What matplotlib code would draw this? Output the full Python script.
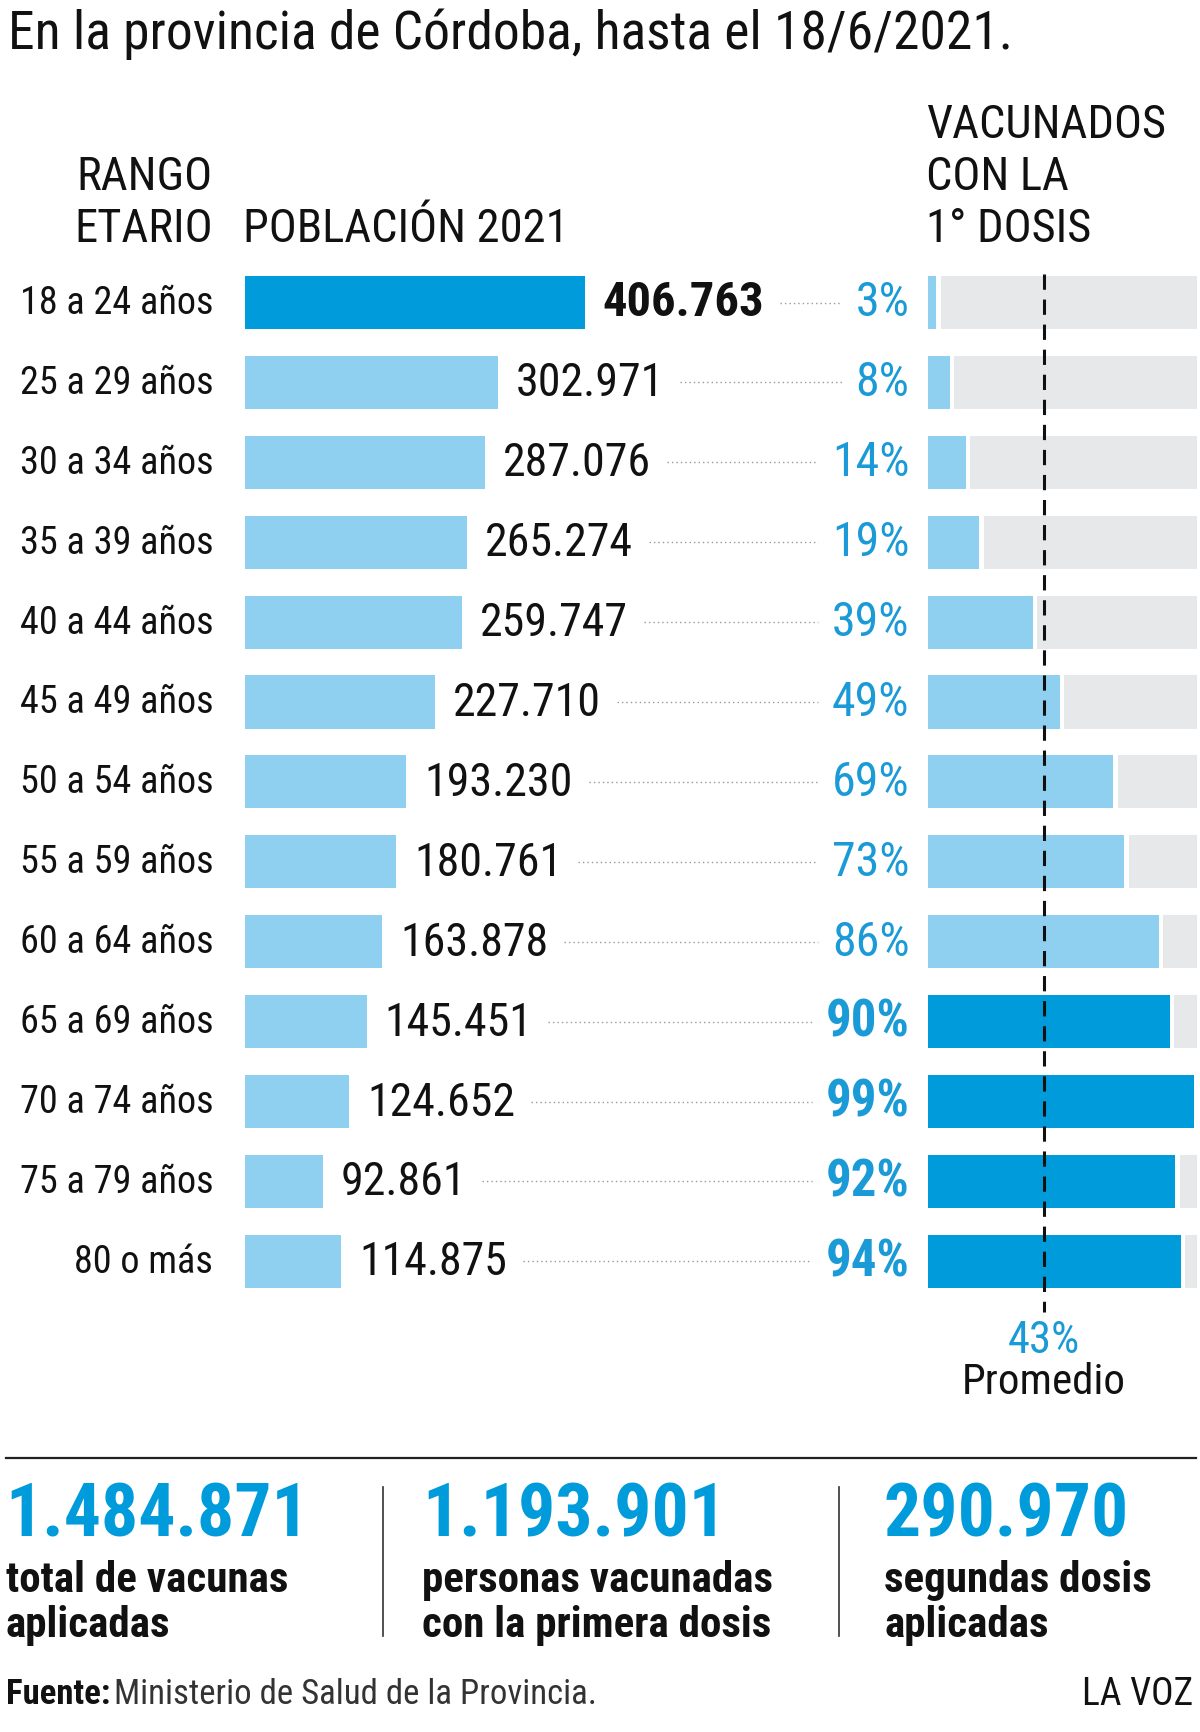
import matplotlib
matplotlib.use("Agg")
import matplotlib.pyplot as plt
from matplotlib import font_manager as fm
from matplotlib.transforms import offset_copy

# ---------------- data ----------------
age_groups = ["18 a 24 años", "25 a 29 años", "30 a 34 años", "35 a 39 años",
              "40 a 44 años", "45 a 49 años", "50 a 54 años", "55 a 59 años",
              "60 a 64 años", "65 a 69 años", "70 a 74 años", "75 a 79 años",
              "80 o más"]
population = [406763, 302971, 287076, 265274, 259747, 227710, 193230,
              180761, 163878, 145451, 124652, 92861, 114875]
pop_labels = ["406.763", "302.971", "287.076", "265.274", "259.747", "227.710",
              "193.230", "180.761", "163.878", "145.451", "124.652", "92.861",
              "114.875"]
vaccinated_pct = [3, 8, 14, 19, 39, 49, 69, 73, 86, 90, 99, 92, 94]
average_pct = 43
totals = ["1.484.871", "1.193.901", "290.970"]
totals_desc = ["total de vacunas\naplicadas",
               "personas vacunadas\ncon la primera dosis",
               "segundas dosis\naplicadas"]

# ---------------- style ----------------
names = {f.name for f in fm.fontManager.ttflist}
def pick(cands):
    for c in cands:
        if c in names:
            return c
    return "DejaVu Sans"
FONT = pick(["Roboto Condensed", "Liberation Sans Narrow", "Open Sans Condensed",
             "DejaVu Sans Condensed", "Roboto", "Liberation Sans"])
plt.rcParams["font.family"] = [FONT, "DejaVu Sans"]

DARK = "#009bdb"
LIGHT = "#8fd0f0"
GRAY = "#e7e8ea"
PCT = "#1a9ad6"
INK = "#111111"
W, H = 1200, 1733

fig = plt.figure(figsize=(W / 100, H / 100), dpi=100)
fig.patch.set_facecolor("white")

def fx(x):
    return x / W
def fy(y):
    return 1 - y / H

# row geometry (pixels)
row0, step = 303.5, 79.9
n = len(age_groups)
top = row0 - step / 2
bottom = row0 + (n - 1) * step + step / 2

# population axes: from bar origin to right edge of percent labels
p_left, p_right = 245.3, 909.4
bar_px = 339.2  # width of largest bar
xmax = population[0] * (p_right - p_left) / bar_px
ax1 = fig.add_axes([fx(p_left), fy(bottom), (p_right - p_left) / W, (bottom - top) / H])
ax1.set_xlim(0, xmax)
ax1.set_ylim(n - 0.5, -0.5)
ax1.axis("off")

# vaccination axes
v_left, v_w = 928.2, 268.5
ax2 = fig.add_axes([fx(v_left), fy(bottom), v_w / W, (bottom - top) / H])
ax2.set_xlim(0, 100)
ax2.set_ylim(n - 0.5, -0.5)
ax2.axis("off")

bh = 0.664
ypos = list(range(n))
pop_colors = [DARK if i == 0 else LIGHT for i in ypos]
ax1.barh(ypos, population, height=bh, color=pop_colors, linewidth=0)

vac_colors = [DARK if v >= 90 else LIGHT for v in vaccinated_pct]
gap = 1.6
gray_left = [v + gap for v in vaccinated_pct]
gray_w = [max(0, 100 - v - gap) for v in vaccinated_pct]
ax2.barh(ypos, gray_w, left=gray_left, height=bh, color=GRAY, linewidth=0)
ax2.barh(ypos, vaccinated_pct, height=bh, color=vac_colors, linewidth=0)

# average dashed line
ax2.plot([average_pct, average_pct], [-0.36, n - 1 + 0.64], color=INK,
         lw=2.2, dashes=(5, 3.2), clip_on=False, zorder=5)
ax2.text(average_pct, 12.98, f"{average_pct}%", color=PCT, fontsize=32,
         ha="center", va="center")
ax2.text(average_pct, 13.5, "Promedio", color=INK, fontsize=31,
         ha="center", va="center")

# labels
tr_age = offset_copy(ax1.transData, fig=fig, x=-32, y=0, units="dots")
tr_val = offset_copy(ax1.transData, fig=fig, x=18, y=0, units="dots")
age_txt, val_txt, pct_txt = [], [], []
for i in ypos:
    age_txt.append(ax1.text(0, i, age_groups[i], transform=tr_age, ha="right",
                            va="center", fontsize=27.5, color=INK))
    val_txt.append(ax1.text(population[i], i, pop_labels[i], transform=tr_val,
                            ha="left", va="center",
                            fontsize=35 if i == 0 else 33,
                            fontweight="heavy" if i == 0 else "normal",
                            color=INK))
    big = vaccinated_pct[i] >= 90
    pct_txt.append(ax1.text(xmax, i, f"{vaccinated_pct[i]}%", ha="right",
                            va="center", fontsize=36.5 if big else 34.5, color=PCT,
                            fontweight="heavy" if big else "normal"))

# dotted leader lines computed from text extents
fig.canvas.draw()
r = fig.canvas.get_renderer()
inv = ax1.transData.inverted()
for i in ypos:
    b1 = val_txt[i].get_window_extent(r)
    b2 = pct_txt[i].get_window_extent(r)
    x0 = inv.transform((b1.x1 + 16, 0))[0]
    x1 = inv.transform((b2.x0 - 14, 0))[0]
    ax1.plot([x0, x1], [i, i], color="#9a9a9a", lw=1.0,
             linestyle=(0, (1, 2.2)), clip_on=False)

# title and headers
fig.text(fx(8), fy(34), "En la provincia de Córdoba, hasta el 18/6/2021.",
         fontsize=38.5, ha="left", va="center", color=INK)
fig.text(fx(213), fy(177), "RANGO", fontsize=33.5, ha="right", va="center", color=INK)
fig.text(fx(213), fy(229), "ETARIO", fontsize=33.5, ha="right", va="center", color=INK)
fig.text(fx(243), fy(229), "POBLACIÓN 2021", fontsize=33.5, ha="left", va="center", color=INK)
for k, t in enumerate(["VACUNADOS", "CON LA", "1° DOSIS"]):
    fig.text(fx(926), fy(125 + 52 * k), t, fontsize=33.5, ha="left", va="center", color=INK)

# bottom summary
fig.add_artist(plt.Line2D([fx(5.5), fx(1196)], [fy(1458.6), fy(1458.6)],
                          color="#222222", lw=1.6, transform=fig.transFigure))
for xs in (383, 839):
    fig.add_artist(plt.Line2D([fx(xs), fx(xs)], [fy(1488), fy(1637)],
                              color="#333333", lw=1.2, transform=fig.transFigure))
num_x = [5.5, 422, 884]
for k in range(3):
    fig.text(fx(num_x[k]), fy(1517), totals[k], fontsize=53, fontweight="heavy",
             color=DARK, ha="left", va="center")
    fig.text(fx(num_x[k]), fy(1603), totals_desc[k], fontsize=31,
             fontweight="bold", color=INK, ha="left", va="center",
             linespacing=1.13)

fig.text(fx(5.5), fy(1695), "Fuente:", fontsize=25, fontweight="bold",
         ha="left", va="center", color=INK)
fig.canvas.draw()
fb = fig.texts[-1].get_window_extent(fig.canvas.get_renderer())
fig.text((fb.x1 + 4) / W, fy(1695), "Ministerio de Salud de la Provincia.",
         fontsize=25, ha="left", va="center", color="#333333")
fig.text(fx(1193), fy(1695), "LA VOZ", fontsize=27, ha="right", va="center",
         color=INK)

fig.savefig("out.png", dpi=100, facecolor="white")
